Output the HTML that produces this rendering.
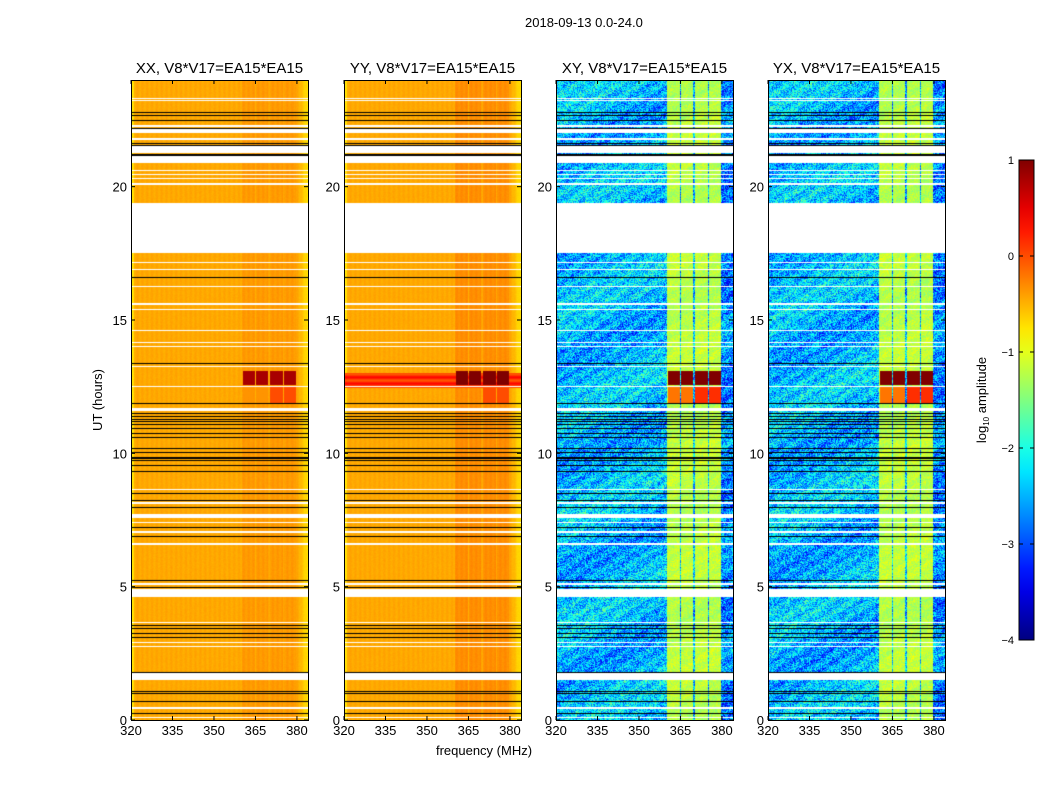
<!DOCTYPE html>
<html><head><meta charset="utf-8"><style>
body{margin:0;background:#fff;font-family:"Liberation Sans",sans-serif;}
#root{position:relative;width:1050px;height:800px;overflow:hidden;background:#fff}
.t{position:absolute;font-size:13px;color:#000;white-space:nowrap}
canvas{position:absolute}
</style></head><body>
<div id="root">
<div class="t" style="left:525px;top:15px">2018-09-13 0.0-24.0</div>
<svg id="axes" width="1050" height="800" style="position:absolute;left:0;top:0"></svg>
</div>
<script>
// ---- data ----
const panelTitles = ["XX, V8*V17=EA15*EA15","YY, V8*V17=EA15*EA15","XY, V8*V17=EA15*EA15","YX, V8*V17=EA15*EA15"];
const panelBase = [-0.45, -0.45, -2.45, -2.45];
const panelBandLevel = [-0.38, -0.32, -1.2, -1.2];
const bandSegments = [[360.0,364.7],[365.3,369.7],[370.3,374.8],[375.4,379.5]];
const rfiBlockLevel = [0.8, 1.0, 1.0, 1.0];
const rfiBlocks = [[12.55,13.1,0],[12.55,13.1,1],[12.55,13.1,2],[12.55,13.1,3],[11.9,12.5,0],[11.9,12.5,1],[11.9,12.5,2],[11.9,12.5,3]];
const broadbandRow = [[12.45,13.0,1,0.15]]; // [t0,t1,panel,level]
const flaggedHours = [22.8,22.7,22.5,22.2,21.62,21.58,21.22,21.18,16.6,13.4,11.87,11.5,11.4,11.3,11.2,11.1,10.95,10.75,10.6,10.2,10.05,9.86,9.82,9.75,9.56,9.34,8.5,8.25,8.0,7.25,6.9,5.25,5.0,3.55,3.45,3.25,3.1,1.8,1.1,1.0,0.7,0.25];
const missingSpans = [[23.27,23.33],[23.2,23.24],[22.25,22.31],[22.0,22.2],[21.75,21.82],[21.25,21.55],[20.9,21.15],[20.58,20.63],[20.43,20.48],[20.28,20.33],[20.08,20.14],[17.5,19.4],[17.12,17.18],[16.88,16.93],[16.22,16.28],[15.56,15.63],[15.36,15.43],[14.57,14.63],[14.12,14.18],[13.97,14.02],[13.22,13.28],[12.47,12.53],[11.6,11.7],[8.62,8.68],[8.1,8.16],[7.58,7.72],[7.37,7.43],[7.02,7.08],[6.57,6.63],[5.07,5.13],[4.6,4.9],[3.62,3.68],[2.87,2.93],[2.72,2.78],[1.5,1.75],[0.42,0.48],[0.07,0.13]];
const xTicks = [320,335,350,365,380];
const yTicks = [0,5,10,15,20];
const cbTicks = [1,0,-1,-2,-3,-4];
// ---- layout ----
const panelX = [131,344,556,768], PW=177, PT=80, PH=640;
const fMin=320, fMax=384, tMin=0, tMax=24, vMin=-4, vMax=1;
const xs = (f,i)=>panelX[i]+(f-fMin)/(fMax-fMin)*PW;
const ys = h=>PT+PH-(h-tMin)/(tMax-tMin)*PH;
function jet(t){t=Math.max(0,Math.min(1,t));const c=v=>Math.round(255*Math.max(0,Math.min(1,v)));
 return [c(1.5-Math.abs(4*t-3)),c(1.5-Math.abs(4*t-2)),c(1.5-Math.abs(4*t-1))];}
function hsh(x,y){let n=(x*374761393+y*668265263)|0;n=(n^(n>>>13))*1274126177|0;return ((n^(n>>>16))>>>0)/4294967295;}
const root=document.getElementById('root');
const svg=document.getElementById('axes');
const NS='http://www.w3.org/2000/svg';
function sv(tag,at){const e=document.createElementNS(NS,tag);for(const k in at)e.setAttribute(k,at[k]);svg.appendChild(e);return e;}
function txt(x,y,s,anchor,size){const e=sv('text',{x:x,y:y,'text-anchor':anchor,'font-size':size||13,'font-family':'Liberation Sans, sans-serif'});e.textContent=s;return e;}

for(let p=0;p<4;p++){
 const cv=document.createElement('canvas');cv.width=PW;cv.height=PH;
 cv.style.left=panelX[p]+'px';cv.style.top=PT+'px';
 
 
 root.insertBefore(cv,svg);
 const ctx=cv.getContext('2d');const img=ctx.createImageData(PW,PH);const d=img.data;
 const cross=p>=2;
 for(let py=0;py<PH;py++){
  const h=tMax-(py+0.5)/PH*(tMax-tMin);
  let miss=false;for(const s of missingSpans){if(h>=s[0]&&h<=s[1]){miss=true;break;}}
  for(let px=0;px<PW;px++){
   const i=(py*PW+px)*4;
   if(miss){d[i]=d[i+1]=d[i+2]=255;d[i+3]=255;continue;}
   const f=fMin+(px+0.5)/PW*(fMax-fMin);
   let v=panelBase[p];
   let inBand=false;for(const b of bandSegments){if(f>=b[0]&&f<=b[1]){inBand=true;break;}}
   if(inBand)v=panelBandLevel[p];
   if(cross){
     const nz=(hsh(px+p*13,py)-0.5)*1.3+0.18*Math.sin(px*0.3+py*0.45)+0.2*Math.sin(py*0.06+px*0.03);
     v+= inBand? nz*0.3 : nz;
     if(!inBand&&f>379.5)v-=0.25;
   } else {
     v+=(hsh(px,py+p*7)-0.5)*0.05+0.03*Math.sin(px*1.3);
     if(px<3)v-=0.3; if(f>380.5)v-=0.3*(f-380.5)/3.5;
   }
   for(const r of broadbandRow){if(r[2]===p&&h>=r[0]&&h<=r[1])v=Math.max(v,r[3]+0.2*Math.sin(py));}
   if(inBand&&f>=360.4){for(const r of rfiBlocks){if(r[2]===p&&h>=r[0]&&h<=r[1]){
      const lowOnly=r[0]<12;
      if(lowOnly){ v=Math.max(v,(f<370.3?-0.2:0.15)+(cross?0:-0.15)); }
      else v=rfiBlockLevel[p];}}}
   const c=jet((v-vMin)/(vMax-vMin));d[i]=c[0];d[i+1]=c[1];d[i+2]=c[2];d[i+3]=255;
  }
 }
 ctx.putImageData(img,0,0);
 ctx.fillStyle='#000';
 for(const h of flaggedHours){ctx.fillRect(0,Math.round(ys(h)-PT),PW,1);}
 const x0=panelX[p];
 sv('rect',{x:x0+0.5,y:PT+0.5,width:PW,height:PH,fill:'none',stroke:'#000','stroke-width':1,});
 const tl=txt(x0+PW/2,PT-7,panelTitles[p],'middle',15);
 
 for(const f of xTicks){const x=xs(f,p);
  sv('line',{x1:x,x2:x,y1:PT+PH,y2:PT+PH-4,stroke:'#000'});sv('line',{x1:x,x2:x,y1:PT,y2:PT+4,stroke:'#000'});
  const t=txt(x,PT+PH+15,String(f),'middle');}
 for(const h of yTicks){const y=ys(h);
  sv('line',{x1:x0,x2:x0+4,y1:y,y2:y,stroke:'#000'});sv('line',{x1:x0+PW,x2:x0+PW-4,y1:y,y2:y,stroke:'#000'});
  const t=txt(x0-4,y+5,String(h),'end');}
}
const xl=txt(484,755,'frequency (MHz)','middle');
const yl=txt(0,0,'UT (hours)','middle');yl.setAttribute('transform','translate(102,400) rotate(-90)');

// colorbar
const CX=1019,CY=160,CW=15,CH=480;
const defs=sv('defs',{});const g=document.createElementNS(NS,'linearGradient');
g.setAttribute('id','jetg');g.setAttribute('x1','0');g.setAttribute('y1','1');g.setAttribute('x2','0');g.setAttribute('y2','0');defs.appendChild(g);
for(let k=0;k<=20;k++){const c=jet(k/20);const s=document.createElementNS(NS,'stop');s.setAttribute('offset',k/20);s.setAttribute('stop-color','rgb('+c.join(',')+')');g.appendChild(s);}
sv('rect',{x:CX,y:CY,width:CW,height:CH,fill:'url(#jetg)',stroke:'#000','stroke-width':1,});
for(const v of cbTicks){const y=CY+CH-(v-vMin)/(vMax-vMin)*CH;
 sv('line',{x1:CX,x2:CX+4,y1:y,y2:y,stroke:'#000'});sv('line',{x1:CX+CW,x2:CX+CW-4,y1:y,y2:y,stroke:'#000'});
 const t=txt(CX-5,y+4,v<0?'\u2212'+(-v):String(v),'end',11);}
const cl=sv('text',{transform:'translate(986,400) rotate(-90)','text-anchor':'middle','font-size':13,'font-family':'Liberation Sans, sans-serif'});

cl.innerHTML='log<tspan font-size="8" dy="3">10</tspan><tspan dy="-3"> amplitude</tspan>';
</script>
</body></html>
